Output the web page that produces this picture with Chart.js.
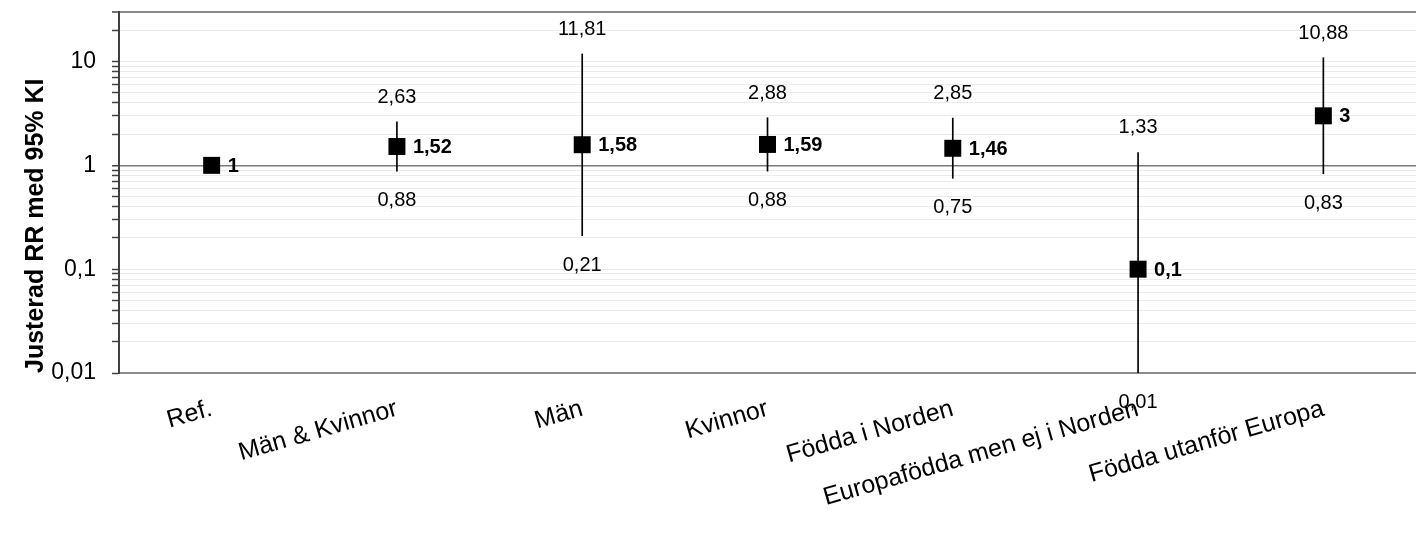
<!DOCTYPE html>
<html lang="sv">
<head>
<meta charset="utf-8">
<title>Justerad RR med 95% KI</title>
<script src="https://cdn.jsdelivr.net/npm/chart.js@4/dist/chart.umd.min.js"></script>
<style>
  html, body { margin: 0; padding: 0; background: #fff; overflow: hidden; }
  #wrap { position: relative; width: 1416px; height: 534px; }
  canvas { display: block; }
</style>
</head>
<body>
<div id="wrap"><canvas id="chart" width="1416" height="534"></canvas></div>
<script>
// Grupper, justerad RR och 95 % konfidensintervall
const categories = ['Ref.', 'Män & Kvinnor', 'Män', 'Kvinnor', 'Födda i Norden', 'Europafödda men ej i Norden', 'Födda utanför Europa'];
const rr    = [1, 1.52, 1.58, 1.59, 1.46, 0.1, 3];
const lower = [null, 0.88, 0.21, 0.88, 0.75, 0.01, 0.83];
const upper = [null, 2.63, 11.81, 2.88, 2.85, 1.33, 10.88];

// Y-axelns gränser och märkta tiopotenser
const yMin = 0.01;
const yMax = 30;
const yLabelled = [0.01, 0.1, 1, 10];

const FONT = "'Liberation Sans', Arial, Helvetica, sans-serif";
Chart.defaults.font.family = FONT;
Chart.defaults.color = '#000';

// Svenskt decimalkomma
const fmt = v => String(v).replace('.', ',');

// Logaritmiska stödlinjer: 1–9 i varje dekad
function logTicks(min, max) {
  const out = [];
  for (let e = Math.floor(Math.log10(min)); e <= Math.ceil(Math.log10(max)); e++) {
    for (let m = 1; m <= 9; m++) {
      const v = parseFloat((m * Math.pow(10, e)).toPrecision(3));
      if (v >= min - 1e-12 && v <= max + 1e-9) out.push(v);
    }
  }
  return out;
}

// Skriver ut nedre/övre gräns samt RR-värdet vid varje kategori
const ciLabels = {
  id: 'ciLabels',
  afterDraw(chart) {
    const { ctx, scales: { x, y } } = chart;
    ctx.save();
    ctx.fillStyle = '#000';
    categories.forEach((c, i) => {
      const px = x.getPixelForValue(i);
      ctx.font = 'bold 20px ' + FONT;
      ctx.textAlign = 'left';
      ctx.textBaseline = 'middle';
      ctx.fillText(fmt(rr[i]), px + 16, y.getPixelForValue(rr[i]) + 1);
      ctx.font = '20px ' + FONT;
      ctx.textAlign = 'center';
      ctx.textBaseline = 'alphabetic';
      if (upper[i] != null) {
        ctx.fillText(fmt(upper[i]), px, y.getPixelForValue(upper[i]) - 19);
      }
      if (lower[i] != null) {
        ctx.fillText(fmt(lower[i]), px, y.getPixelForValue(lower[i]) + 35);
      }
    });
    ctx.restore();
  }
};

new Chart(document.getElementById('chart'), {
  type: 'bar',
  data: {
    labels: categories,
    datasets: [
      {
        label: 'RR',
        type: 'line',
        data: rr,
        showLine: false,
        pointStyle: 'rect',
        pointRadius: 12,
        pointHoverRadius: 12,
        pointBackgroundColor: '#000',
        pointBorderWidth: 0,
        order: 0
      },
      {
        label: '95% KI',
        data: categories.map((c, i) => lower[i] == null ? null : [lower[i], upper[i]]),
        backgroundColor: '#000',
        barThickness: 1,
        order: 1
      }
    ]
  },
  options: {
    responsive: false,
    animation: false,
    devicePixelRatio: 1,
    layout: { autoPadding: false, padding: { top: 12, right: 0, left: 0, bottom: 0 } },
    plugins: {
      legend: { display: false },
      tooltip: { enabled: false }
    },
    scales: {
      x: {
        offset: true,
        grid: { display: false },
        border: { display: true, color: '#8c8c8c', width: 2 },
        ticks: {
          autoSkip: false,
          minRotation: 16,
          maxRotation: 16,
          padding: 13,
          font: { size: 25 },
          color: '#000'
        },
        afterFit(s) {
          s.height = 161;
          s.paddingLeft = 0;
          s.paddingRight = 0;
        }
      },
      y: {
        type: 'logarithmic',
        min: yMin,
        max: yMax,
        afterBuildTicks(s) {
          s.ticks = logTicks(yMin, yMax).map(v => ({ value: v, major: yLabelled.includes(v) }));
        },
        afterFit(s) {
          s.width = 119;
          s.paddingTop = 0;
          s.paddingBottom = 0;
        },
        ticks: {
          autoSkip: false,
          padding: 16,
          font: { size: 23 },
          color: '#000',
          callback: v => (yLabelled.includes(v) ? fmt(v) : '')
        },
        grid: {
          drawTicks: true,
          tickLength: 7,
          color: c => {
            const v = c.tick && c.tick.value;
            if (v === 1) return '#7a7a7a';
            if (v === yMax) return '#8c8c8c';
            return '#ebebeb';
          },
          lineWidth: c => {
            const v = c.tick && c.tick.value;
            if (v === 1) return 1.5;
            if (v === yMax) return 2;
            return 1;
          },
          tickColor: '#404040',
          tickWidth: 1.5
        },
        border: { display: true, color: '#404040', width: 2 },
        title: {
          display: true,
          text: 'Justerad RR med 95% KI',
          align: 'start',
          color: '#000',
          font: { size: 25, weight: 'bold' },
          padding: { top: 21, bottom: 0 }
        }
      }
    }
  },
  plugins: [ciLabels]
});
</script>
</body>
</html>
